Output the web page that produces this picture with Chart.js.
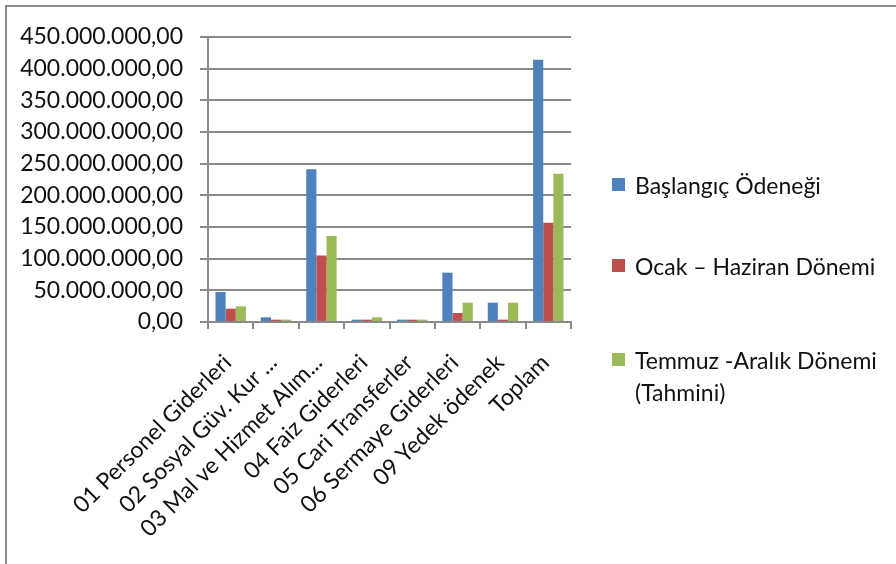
<!DOCTYPE html>
<html>
<head>
<meta charset="utf-8">
<script src="https://cdn.jsdelivr.net/npm/chart.js@4"></script>
<style>
  body { margin: 0; background: #fff; overflow: hidden; }
  #frame { position: absolute; left: 5px; top: 5px; width: 1000px; height: 1000px;
           border-left: 2px solid #8a8a8a; border-top: 2px solid #8a8a8a; }
  #chart { position: absolute; left: 0; top: 0; }
  .leg { position: absolute; left: 612px; font-family: Lato, sans-serif; font-size: 23px;
         color: #111; line-height: 32px; }
  .leg span { position: absolute; left: 0; top: 9px; width: 13px; height: 13px; }
  .leg div { margin-left: 23px; white-space: nowrap; }
</style>
</head>
<body>
<div id="frame"></div>
<canvas id="chart" width="896" height="564"></canvas>
<div id="legend"></div>
<script>
const kategoriler = ["01 Personel Giderleri", "02 Sosyal Güv. Kur ...", "03 Mal ve Hizmet Alım...",
  "04 Faiz Giderleri", "05 Cari Transferler", "06 Sermaye Giderleri", "09 Yedek ödenek", "Toplam"];
const baslangic = [47400000, 7400000, 241000000, 3700000, 3700000, 77900000, 30500000, 414000000];
const ocakHaziran = [21000000, 3700000, 105000000, 3700000, 3700000, 14200000, 3700000, 156800000];
const temmuzAralik = [24700000, 3700000, 135800000, 7400000, 3700000, 30500000, 30500000, 234000000];
const seriAdlari = ["Başlangıç Ödeneği", "Ocak – Haziran Dönemi", ["Temmuz -Aralık Dönemi", "(Tahmini)"]];
const renkler = ["#4F81BD", "#C0504D", "#9BBB59"];
const legendY = [169, 250, 344];

//---------------------------------------------- format
function formatTL(v) {
    const tam = Math.round(v).toString().replace(/\B(?=(\d{3})+(?!\d))/g, ".");
    return tam + ",00";
}

//---------------------------------------------- legend
const legend = document.querySelector("#legend");
seriAdlari.forEach((ad, i) => {
    const satirlar = Array.isArray(ad) ? ad : [ad];
    let html = `<span style="background:${renkler[i]}"></span>`;
    satirlar.forEach(s => { html += `<div>${s}</div>`; });
    const el = document.createElement("div");
    el.className = "leg";
    el.style.top = legendY[i] + "px";
    el.innerHTML = html;
    legend.appendChild(el);
});

//---------------------------------------------- grafik
const gri = "#8a8a8a";

new Chart(document.getElementById("chart"), {
    type: "bar",
    data: {
        labels: kategoriler,
        datasets: [
            { label: "Başlangıç Ödeneği", data: baslangic, backgroundColor: renkler[0] },
            { label: "Ocak – Haziran Dönemi", data: ocakHaziran, backgroundColor: renkler[1] },
            { label: "Temmuz -Aralık Dönemi (Tahmini)", data: temmuzAralik, backgroundColor: renkler[2] }
        ]
    },
    options: {
        responsive: false,
        animation: false,
        layout: { padding: { left: 0, right: 325, top: 37, bottom: 0 } },
        datasets: { bar: { categoryPercentage: 0.67, barPercentage: 1.0 } },
        plugins: { legend: { display: false }, tooltip: { enabled: false } },
        scales: {
            x: {
                grid: { display: true, drawOnChartArea: false, offset: true, color: gri, lineWidth: 2, tickLength: 7 },
                border: { display: true, color: gri, width: 2 },
                ticks: { color: "#111", font: { family: "Lato, sans-serif", size: 23 }, maxRotation: 45, minRotation: 45,
                         autoSkip: false, padding: 20, labelOffset: -3 },
                afterFit: (scale) => { scale.height = 242; }
            },
            y: {
                min: 0,
                max: 450000000,
                grid: { color: gri, lineWidth: 2, tickLength: 8 },
                border: { display: true, color: gri, width: 2 },
                ticks: { stepSize: 50000000, color: "#111", font: { family: "Lato, sans-serif", size: 23 }, padding: 17,
                         callback: (v) => formatTL(v) },
                afterFit: (scale) => { scale.width = 208; }
            }
        }
    }
});
</script>
</body>
</html>
